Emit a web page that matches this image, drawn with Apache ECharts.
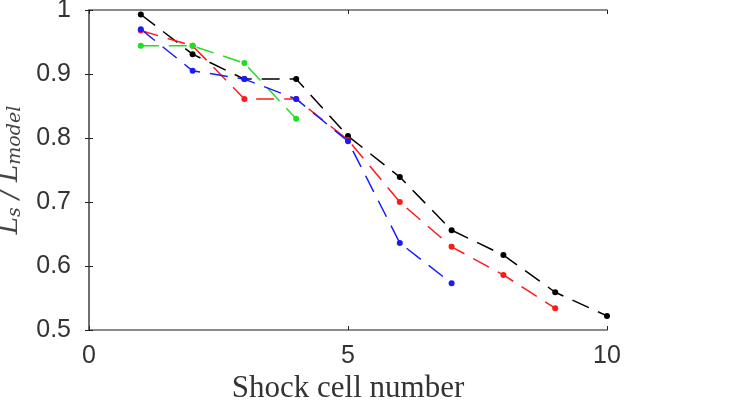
<!DOCTYPE html>
<html>
<head>
<meta charset="utf-8">
<script src="https://cdn.jsdelivr.net/npm/echarts@6/dist/echarts.min.js"></script>
<style>
  html, body { margin: 0; padding: 0; background: #fff; }
  #main { width: 754px; height: 407px; }
</style>
</head>
<body>
<div id="main"></div>
<script>
// shock cell numbers and L_s / L_model for each case
var cells = [1, 2, 3, 4, 5, 6, 7, 8, 9, 10];
var blackVals = [0.993, 0.931, 0.892, 0.892, 0.803, 0.739, 0.656, 0.617, 0.559, 0.522];
var redVals = [0.968, 0.944, 0.861, 0.861, 0.797, 0.700, 0.630, 0.586, 0.534];
var greenVals = [0.944, 0.944, 0.917, 0.830];
var blueVals = [0.970, 0.905, 0.892, 0.861, 0.795, 0.636, 0.573];

var xTicks = [0, 5, 10];
var yTicks = [0.5, 0.6, 0.7, 0.8, 0.9, 1];

var chart = echarts.init(document.getElementById('main'));

function pairs(vals) {
    return vals.map(function (v, i) { return [cells[i], v]; });
}

function line(name, vals, color) {
    return {
        name: name,
        type: 'line',
        data: pairs(vals),
        symbol: 'circle',
        symbolSize: 6,
        showSymbol: true,
        animation: false,
        lineStyle: { color: color, width: 1.5, type: [18, 10] },
        itemStyle: { color: color }
    };
}

var axisGray = '#666';
var sans = "'Liberation Sans'";
var serif = "'Liberation Serif'";

chart.setOption({
    grid: { left: 89, right: 147, top: 10, bottom: 77, containLabel: false, outerBoundsMode: 'none' },
    xAxis: [{
        type: 'value',
        min: 0, max: 10, interval: 5,
        axisLine: { show: true, lineStyle: { color: axisGray, width: 1.5 } },
        axisTick: { show: true, inside: true, length: 4, lineStyle: { color: '#222' } },
        splitLine: { show: false },
        axisLabel: {
            color: '#333', fontSize: 25, fontFamily: sans, margin: 14,
            formatter: function (v) { return xTicks.indexOf(v) >= 0 ? String(v) : ''; }
        },
        name: 'Shock cell number',
        nameLocation: 'middle',
        nameGap: 43,
        nameMoveOverlap: false,
        nameTextStyle: { color: '#333', fontSize: 31, fontFamily: serif }
    }, {
        type: 'value', position: 'top',
        min: 0, max: 10, interval: 5,
        axisLine: { show: true, lineStyle: { color: axisGray, width: 1.5 } },
        axisTick: { show: true, inside: true, length: 4, lineStyle: { color: '#222' } },
        axisLabel: { show: false },
        splitLine: { show: false }
    }],
    yAxis: [{
        type: 'value',
        min: 0.5, max: 1, interval: 0.1,
        axisLine: { show: true, lineStyle: { color: axisGray, width: 1.5 } },
        axisTick: { show: true, inside: true, length: 4, lineStyle: { color: '#222' } },
        splitLine: { show: false },
        axisLabel: {
            color: '#333', fontSize: 25, fontFamily: sans, margin: 18,
            formatter: function (v) {
                var r = Math.round(v * 10) / 10;
                return yTicks.indexOf(r) >= 0 ? String(r) : '';
            }
        },
        name: '{i|L}{s|s}{i| / L}{s|model}',
        nameLocation: 'middle',
        nameRotate: 90,
        nameGap: 64,
        nameMoveOverlap: false,
        nameTextStyle: {
            color: '#444',
            rich: {
                i: { fontSize: 26, fontStyle: 'italic', fontFamily: "'DejaVu Serif'", color: '#444' },
                s: { fontSize: 19, fontStyle: 'italic', fontFamily: "'DejaVu Serif'", color: '#444', verticalAlign: 'bottom', padding: [10, 0, 0, 0] }
            }
        }
    }, {
        type: 'value', position: 'right',
        min: 0.5, max: 1, interval: 0.1,
        axisLine: { show: true, lineStyle: { color: axisGray, width: 1.5 } },
        axisTick: { show: true, inside: true, length: 4, lineStyle: { color: '#222' } },
        axisLabel: { show: false },
        splitLine: { show: false }
    }],
    series: [
        line('black', blackVals, '#000000'),
        line('red', redVals, '#ff1a1a'),
        line('green', greenVals, '#1ee01e'),
        line('blue', blueVals, '#1a1aff')
    ]
});
</script>
</body>
</html>
